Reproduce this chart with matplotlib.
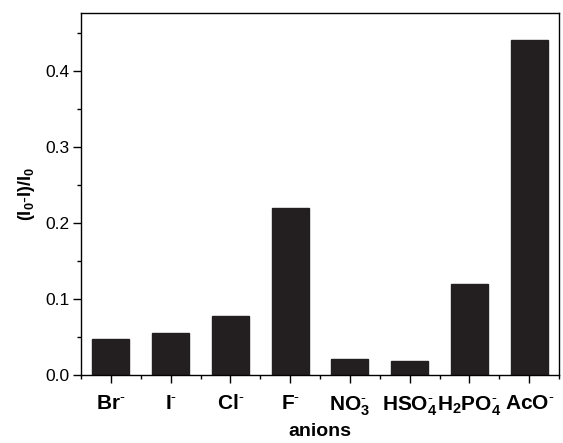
import numpy as np
import matplotlib.pyplot as plt
from matplotlib.ticker import MultipleLocator

plt.rcParams['font.family'] = ['Liberation Sans', 'DejaVu Sans']
plt.rcParams['mathtext.fontset'] = 'custom'
plt.rcParams['mathtext.rm'] = 'Liberation Sans'
plt.rcParams['mathtext.bf'] = 'Liberation Sans:bold'
plt.rcParams['mathtext.it'] = 'Liberation Sans:italic'

anions = [r'$\mathbf{Br^{\text{-}}}$', r'$\mathbf{I^{\text{-}}}$', r'$\mathbf{Cl^{\text{-}}}$',
          r'$\mathbf{F^{\text{-}}}$', r'$\mathbf{NO_3^{\text{-}}}$', r'$\mathbf{HSO_4^{\text{-}}}$',
          r'$\mathbf{H_2PO_4^{\text{-}}}$', r'$\mathbf{AcO^{\text{-}}}$']
ratio = [0.047, 0.055, 0.077, 0.219, 0.021, 0.018, 0.120, 0.440]

fig = plt.figure(figsize=(5.63, 4.43), dpi=100)
ax = fig.add_axes([0.144, 0.1535, 0.849, 0.817])

x = np.arange(1, len(ratio) + 1)
ax.bar(x, ratio, width=0.62, color='#231f20', edgecolor='#231f20')

ax.set_xlim(0.5, 8.5)
ax.set_ylim(0, 0.476)
ax.set_xticks(x)
ax.set_xticklabels(anions, fontsize=15)
ax.xaxis.set_minor_locator(MultipleLocator(0.5))
ax.yaxis.set_major_locator(MultipleLocator(0.1))
ax.yaxis.set_minor_locator(MultipleLocator(0.05))
ax.yaxis.set_major_formatter(plt.FormatStrFormatter('%.1f'))
ax.tick_params(axis='both', length=6, width=1, direction='out')
ax.tick_params(axis='both', which='minor', length=3, width=1)
ax.tick_params(axis='y', labelsize=12.5, pad=2)
ax.tick_params(axis='x', pad=8)
for s in ax.spines.values():
    s.set_linewidth(1.0)

ax.set_xlabel('anions', fontsize=14, fontweight='bold', labelpad=4)
ax.set_ylabel(r'$\mathbf{(I_0\text{-}I)/I_0}$', fontsize=13, labelpad=6)

plt.savefig('out.png', dpi=100)
